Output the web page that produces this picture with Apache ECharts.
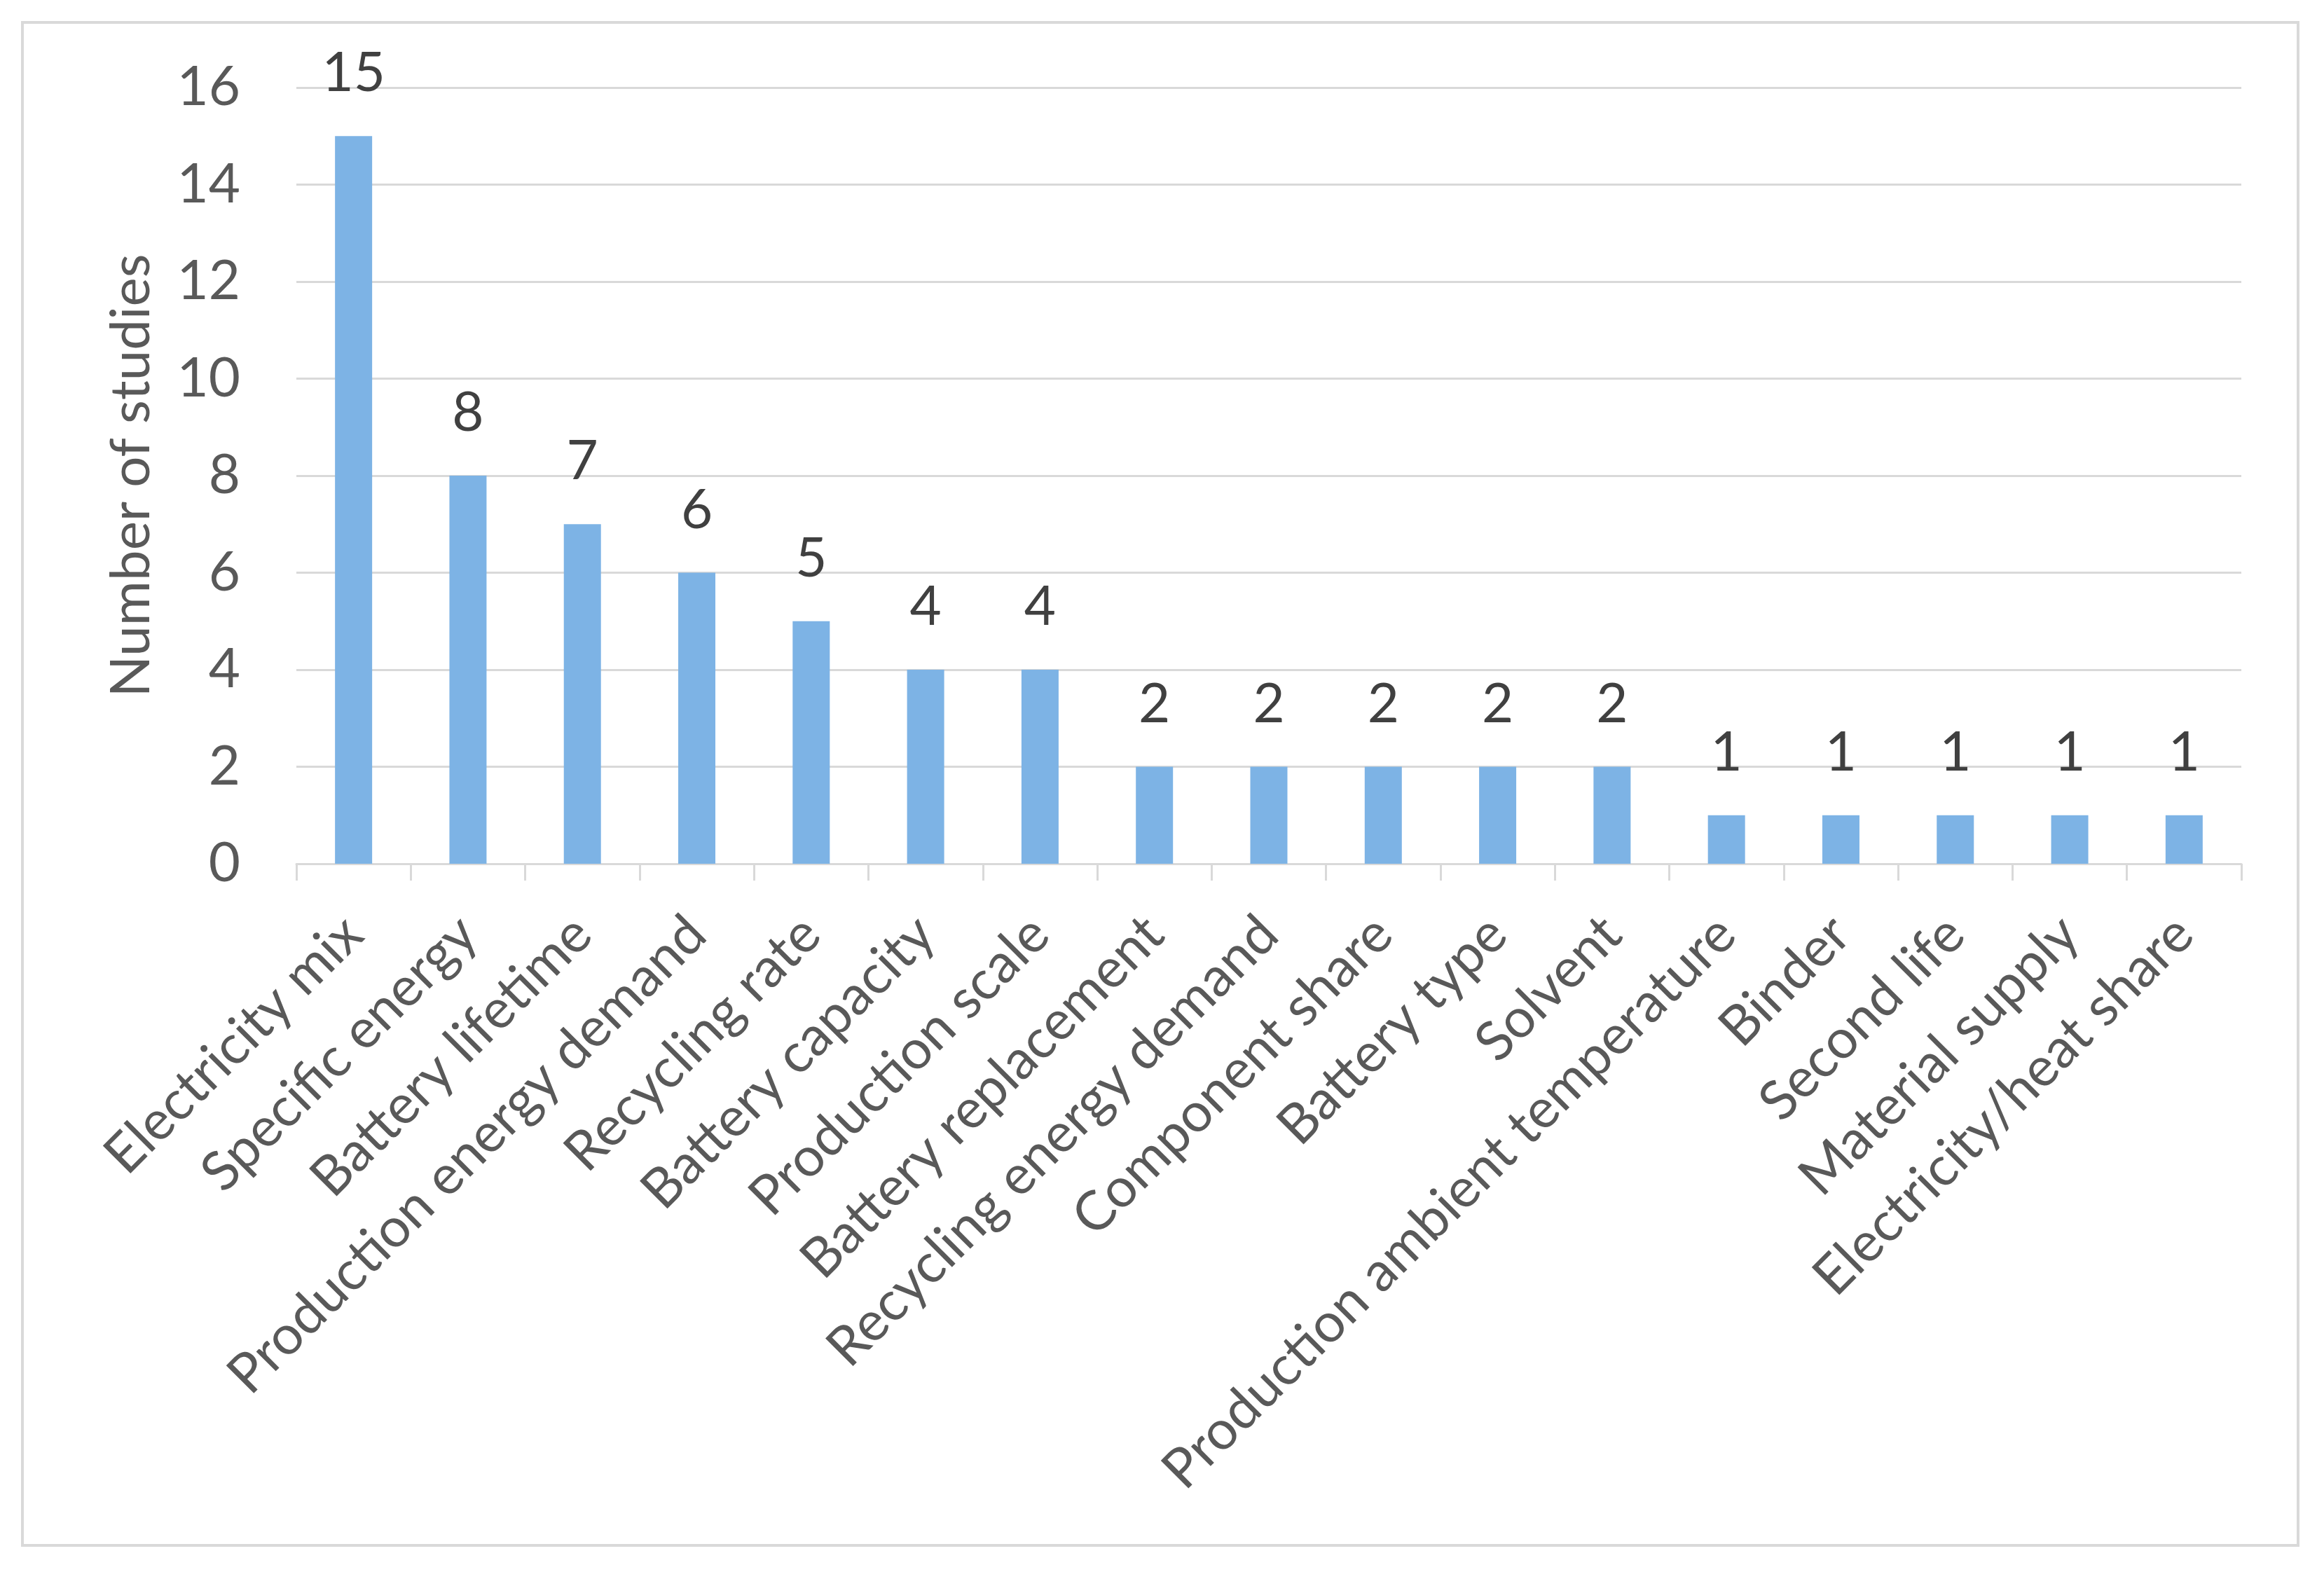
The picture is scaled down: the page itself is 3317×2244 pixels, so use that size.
<!DOCTYPE html>
<html>
<head>
<meta charset="utf-8">
<script src="https://cdn.jsdelivr.net/npm/echarts@6/dist/echarts.min.js"></script>
<style>
  html, body { margin: 0; padding: 0; background: #ffffff; }
  #frame { position: absolute; left: 30px; top: 30px; width: 3252px; height: 2178px; border: 4px solid #d9d9d9; box-sizing: border-box; }
  #chart { position: absolute; left: 0; top: 0; width: 3317px; height: 2244px; }
</style>
</head>
<body>
<div id="frame"></div>
<div id="chart"></div>
<script>
const categories = [
  "Electricity mix", "Specific energy", "Battery lifetime", "Production energy demand",
  "Recycling rate", "Battery capacity", "Production scale", "Battery replacement",
  "Recycling energy demand", "Component share", "Battery type", "Solvent",
  "Production ambient temperature", "Binder", "Second life", "Material supply",
  "Electricity/heat share"
];
const studyCounts = [15, 8, 7, 6, 5, 4, 4, 2, 2, 2, 2, 2, 1, 1, 1, 1, 1];
const yAxisTitle = "Number of studies";
const yMin = 0, yMax = 16, yStep = 2;

const FONT = 'Lato, "Open Sans", sans-serif';
const chart = echarts.init(document.getElementById('chart'), null, { renderer: 'canvas' });
chart.setOption({
  backgroundColor: 'transparent',
  animation: false,
  grid: { left: 423, right: 118, top: 125, bottom: 1011, containLabel: false },
  xAxis: {
    type: 'category',
    data: categories,
    axisLine: { show: true, lineStyle: { color: '#d9d9d9', width: 3 } },
    axisTick: { show: true, alignWithLabel: false, length: 24, lineStyle: { color: '#d9d9d9', width: 3 } },
    axisLabel: { rotate: 45, interval: 0, margin: 88, color: '#595959', fontSize: 78, fontFamily: FONT }
  },
  yAxis: {
    type: 'value',
    min: yMin, max: yMax, interval: yStep,
    name: yAxisTitle,
    nameLocation: 'middle',
    nameGap: 196,
    nameTextStyle: { color: '#595959', fontSize: 78, fontFamily: FONT },
    axisLine: { show: false },
    axisTick: { show: false },
    axisLabel: { margin: 80, color: '#595959', fontSize: 78, fontFamily: FONT },
    splitLine: { show: true, lineStyle: { color: '#d9d9d9', width: 3 } }
  },
  series: [{
    type: 'bar',
    data: studyCounts,
    barWidth: 53,
    itemStyle: { color: '#7db3e5' },
    label: { show: true, position: 'top', distance: 50, color: '#404040', fontSize: 78, fontFamily: FONT }
  }]
});
</script>
</body>
</html>
